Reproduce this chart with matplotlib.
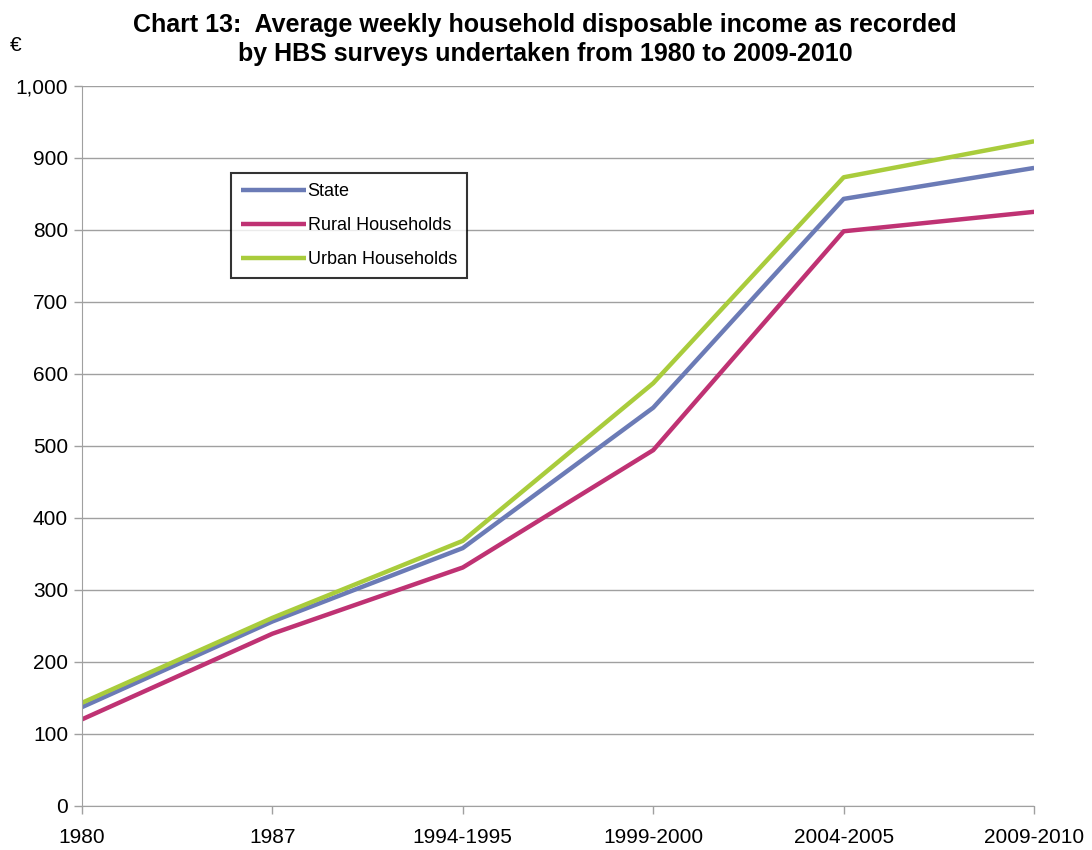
import matplotlib
matplotlib.use("Agg")
import matplotlib.pyplot as plt

plt.rcParams['font.family'] = ['Liberation Sans', 'DejaVu Sans']

# survey periods and average weekly disposable income (EUR)
periods = ["1980", "1987", "1994-1995", "1999-2000", "2004-2005", "2009-2010"]
state = [137, 256, 358, 553, 843, 886]
rural = [120, 239, 331, 494, 798, 825]
urban = [143, 261, 368, 587, 873, 923]

fig = plt.figure(figsize=(10.92, 8.5), dpi=100)
ax = fig.add_axes([0.075, 0.052, 0.872, 0.847])

x = range(len(periods))
ax.plot(x, state, color="#6B7BB6", lw=3.2, label="State", solid_capstyle="butt")
ax.plot(x, rural, color="#BF3273", lw=3.2, label="Rural Households", solid_capstyle="butt")
ax.plot(x, urban, color="#A9CC3C", lw=3.2, label="Urban Households", solid_capstyle="butt")

ax.set_xlim(0, len(periods) - 1)
ax.set_ylim(0, 1000)
ax.set_yticks(range(0, 1001, 100))
ax.set_yticklabels([f"{v:,}" for v in range(0, 1001, 100)])
ax.set_xticks(list(x))
ax.set_xticklabels(periods)
ax.grid(axis="y", color="#a0a0a0", lw=1)
ax.set_axisbelow(True)
for s in ["top", "right"]:
    ax.spines[s].set_visible(False)
for s in ["left", "bottom"]:
    ax.spines[s].set_color("#a0a0a0")
ax.tick_params(axis="both", colors="#a0a0a0", labelcolor="black", labelsize=15, length=6, width=1)
ax.tick_params(axis="x", pad=10)
ax.tick_params(axis="y", pad=4)

leg = ax.legend(loc="upper left", bbox_to_anchor=(0.1565, 0.879), fontsize=13,
                frameon=True, fancybox=False, edgecolor="black", handlelength=3.6,
                handletextpad=0.1, labelspacing=0.95, borderpad=0.55, borderaxespad=0)
leg.get_frame().set_linewidth(1.5)

fig.text(0.499, 0.985, "Chart 13:  Average weekly household disposable income as recorded\nby HBS surveys undertaken from 1980 to 2009-2010",
         ha="center", va="top", fontsize=18, fontweight="bold", linespacing=1.3)
fig.text(0.009, 0.94, "€", fontsize=15)

fig.savefig("out.png", dpi=100)
